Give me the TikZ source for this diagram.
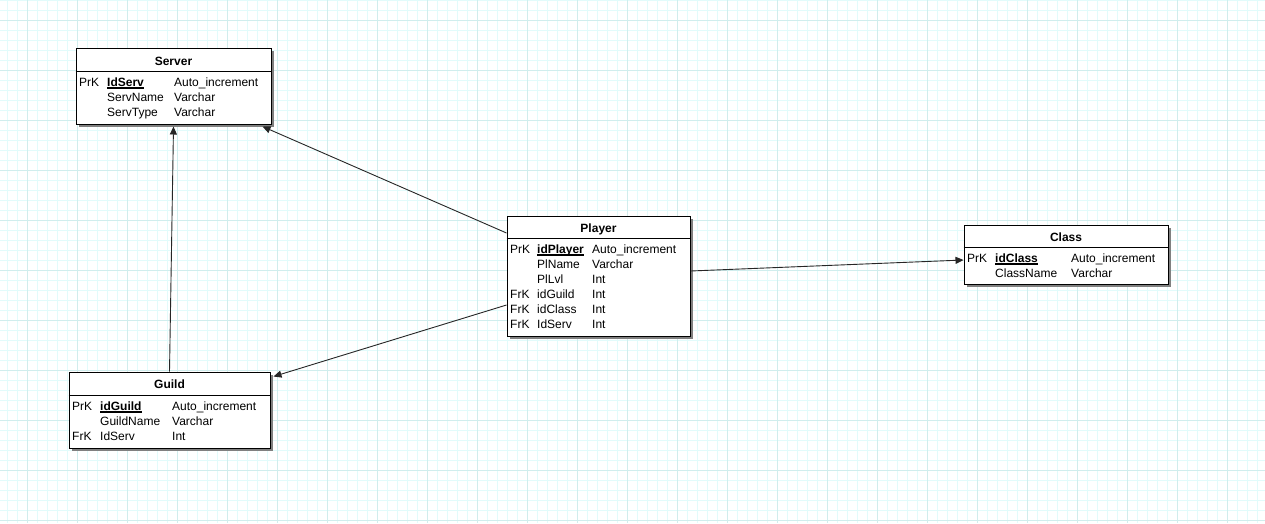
\documentclass[tikz,border=0pt]{standalone}
\usepackage{fontspec}
\setmainfont{Liberation Sans}
\usetikzlibrary{arrows.meta,shadows}
\definecolor{gridminor}{RGB}{226,251,251}
\definecolor{gridmajor}{RGB}{208,237,237}
\definecolor{shadowgray}{RGB}{128,128,128}
\newcommand{\pkey}[1]{\setbox0\hbox{\textbf{#1}}\rlap{\rule[-2.5pt]{\wd0}{1.3pt}}\box0}

\begin{document}
\begin{tikzpicture}[x=1pt, y=-1pt,
    table/.style={draw, fill=white, line width=1pt, inner sep=0pt,
        drop shadow={shadow xshift=3pt, shadow yshift=-3pt, fill=shadowgray, opacity=1}},
    title/.style={font=\fontsize{12}{14}\selectfont\bfseries, anchor=base, inner sep=0pt},
    cell/.style={anchor=base west, inner sep=0pt},
    link/.style={-{Triangle[length=8pt,width=7pt]}, line width=0.9pt, draw=black!85},
    font=\fontsize{12}{14}\selectfont
]
\useasboundingbox (0,0) rectangle (1265,523);
\fill[white] (0,0) rectangle (1265,523);
% grid
\foreach \x in {7,17,...,1265} \draw[gridminor, line width=1pt] (\x,0) -- (\x,523);
\foreach \y in {0,10,...,520} \draw[gridminor, line width=1pt] (0,\y) -- (1265,\y);
\foreach \x in {27,77,...,1265} \draw[gridmajor, line width=1pt] (\x,0) -- (\x,523);
\foreach \y in {20,70,...,520} \draw[gridmajor, line width=1pt] (0,\y) -- (1265,\y);

% Server
\node[table, minimum width=195pt, minimum height=76pt] (server) at (173.5,86) {};
\node[title] (server-title) at (173.5,65) {Server};
\draw[line width=1pt] (server.west |- 0,71) -- (server.east |- 0,71);
\foreach \k/\f/\t [count=\i] in {PrK/\pkey{IdServ}/Auto\_increment, /ServName/Varchar, /ServType/Varchar} {
  \node[cell] (server-k\i) at (79,{71+15*\i}) {\k};
  \node[cell] (server-f\i) at (107,{71+15*\i}) {\f};
  \node[cell] (server-t\i) at (174,{71+15*\i}) {\t};
}

% Player
\node[table, minimum width=183pt, minimum height=120pt] (player) at (598.5,276) {};
\node[title] (player-title) at (598.5,232) {Player};
\draw[line width=1pt] (player.west |- 0,238) -- (player.east |- 0,238);
\foreach \k/\f/\t [count=\i] in {PrK/\pkey{idPlayer}/Auto\_increment, /PlName/Varchar, /PlLvl/Int,
    FrK/idGuild/Int, FrK/idClass/Int, FrK/IdServ/Int} {
  \node[cell] (player-k\i) at (510,{238+15*\i}) {\k};
  \node[cell] (player-f\i) at (537,{238+15*\i}) {\f};
  \node[cell] (player-t\i) at (592,{238+15*\i}) {\t};
}

% Class
\node[table, minimum width=204pt, minimum height=59pt] (class) at (1066,254.5) {};
\node[title] (class-title) at (1066,241) {Class};
\draw[line width=1pt] (class.west |- 0,247) -- (class.east |- 0,247);
\foreach \k/\f/\t [count=\i] in {PrK/\pkey{idClass}/Auto\_increment, /ClassName/Varchar} {
  \node[cell] (class-k\i) at (967,{247+15*\i}) {\k};
  \node[cell] (class-f\i) at (995,{247+15*\i}) {\f};
  \node[cell] (class-t\i) at (1071,{247+15*\i}) {\t};
}

% Guild
\node[table, minimum width=201pt, minimum height=76pt] (guild) at (169.5,410) {};
\node[title] (guild-title) at (169.5,388) {Guild};
\draw[line width=1pt] (guild.west |- 0,395) -- (guild.east |- 0,395);
\foreach \k/\f/\t [count=\i] in {PrK/\pkey{idGuild}/Auto\_increment, /GuildName/Varchar, FrK/IdServ/Int} {
  \node[cell] (guild-k\i) at (72,{395+15*\i}) {\k};
  \node[cell] (guild-f\i) at (100,{395+15*\i}) {\f};
  \node[cell] (guild-t\i) at (172,{395+15*\i}) {\t};
}

% relations
\draw[link] (guild.north) -- ([yshift=-2pt]server.south);
\draw[link] ([yshift=43pt]player.west) -- ([xshift=-9pt,yshift=-2pt]server.south east);
\draw[link] ([yshift=-29pt]player.west) -- ([xshift=3pt,yshift=-5pt]guild.north east);
\draw[link] ([yshift=5pt]player.east) -- ([yshift=-5.5pt]class.west);
\end{tikzpicture}
\end{document}
